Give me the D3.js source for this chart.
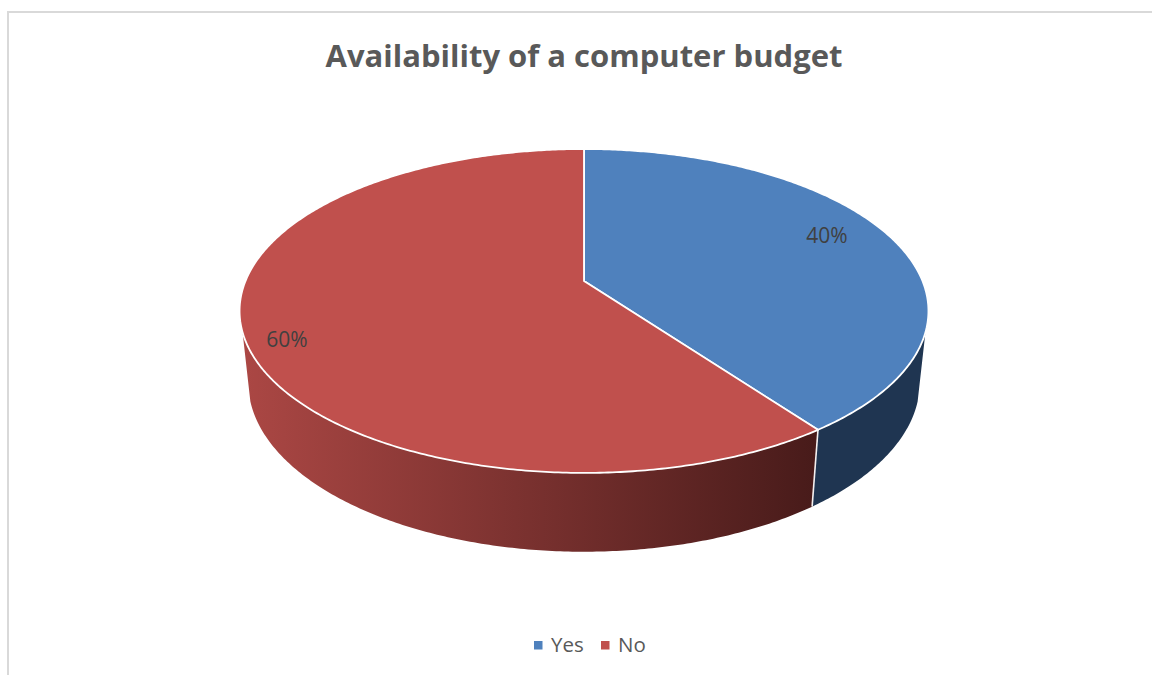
<!DOCTYPE html>
<html><head><meta charset="utf-8">
<script src="https://cdn.jsdelivr.net/npm/d3@7"></script>
<style>html,body{margin:0;padding:0;background:#fff;overflow:hidden}svg{display:block}</style>
</head><body><svg id="c" width="1152" height="675"></svg>
<script>
const categories = ["Yes", "No"];
const seriesValues = [40, 60];
const seriesLabels = ["40%", "60%"];
const topColors = ["#4f81bd", "#c0504d"];
const titleText = "Availability of a computer budget";

const svg = d3.select("#c");
const font = "'Open Sans', sans-serif";

// frame
svg.append("path").attr("d", d3.line()([[8, 675], [8, 12], [1152, 12]]))
  .attr("fill", "none").attr("stroke", "#d9d9d9").attr("stroke-width", 2);

// perspective projection of a tilted disc
const k = -0.185;
const uScale = d3.scaleLinear().domain([-1, 1]);
const topProj = { cx: 584, cy: 281, rx: 338.5, ry: 156.4 };
const lowProj = { cx: 584, cy: 351, rx: 330, ry: 163.6 };
function project(p, t) {
  const u = Math.sin(t), v = -Math.cos(t), d = 1 + k * v;
  const x = uScale.copy().range([p.cx - p.rx, p.cx + p.rx]);
  const y = uScale.copy().range([p.cy - p.ry, p.cy + p.ry]);
  return [x(u / d), y(v / d)];
}
const arcPts = (p, a, b) => {
  const n = Math.max(2, Math.ceil(Math.abs(b - a) / 0.01));
  return d3.range(n + 1).map(i => project(p, a + (b - a) * i / n));
};
const line = d3.line();

const arcs = d3.pie().sort(null)(seriesValues);
const rad = d => d * Math.PI / 180;

// silhouette angles, where the side wall leaves the top rim
const topR = rad(108), lowR = rad(107);
const topL = rad(252), lowL = rad(253);

const defs = svg.append("defs");
const grad = defs.append("linearGradient").attr("id", "redSide")
  .attr("gradientUnits", "userSpaceOnUse").attr("x1", 243).attr("x2", 815).attr("y1", 0).attr("y2", 0);
grad.append("stop").attr("offset", 0).attr("stop-color", "#ab4744");
grad.append("stop").attr("offset", 1).attr("stop-color", "#481b1a");

const split = arcs[0].endAngle;

// side walls
const blueSide = arcPts(topProj, topR, split).concat(arcPts(lowProj, split, lowR));
svg.append("path").attr("d", line(blueSide) + "Z").attr("fill", "#1f3551");
const redSide = arcPts(topProj, split, topL).concat(arcPts(lowProj, lowL, split));
svg.append("path").attr("d", line(redSide) + "Z").attr("fill", "url(#redSide)");
svg.append("path").attr("d", line([project(topProj, split), project(lowProj, split)]))
  .attr("stroke", "#f4f0f0").attr("stroke-width", 1.6).attr("fill", "none");

// top faces
svg.selectAll("path.slice").data(arcs).join("path").attr("class", "slice")
  .attr("d", d => line([[topProj.cx, topProj.cy]].concat(arcPts(topProj, d.startAngle, d.endAngle))) + "Z")
  .attr("fill", (d, i) => topColors[i])
  .attr("stroke", "#fff").attr("stroke-width", 1.8).attr("stroke-linejoin", "round");

// data labels
const labelX = [827, 287], labelY = [243, 347];
svg.selectAll("text.lab").data(seriesLabels).join("text").attr("class", "lab")
  .attr("x", (d, i) => labelX[i]).attr("y", (d, i) => labelY[i])
  .attr("text-anchor", "middle").attr("font-family", font).attr("font-size", 21)
  .attr("fill", "#404040").text(d => d);

// title
svg.append("text").attr("x", 584).attr("y", 67).attr("text-anchor", "middle")
  .attr("font-family", font).attr("font-weight", 700).attr("font-size", 31)
  .attr("fill", "#595959").text(titleText);

// legend
const legendSwatchX = [534, 601], legendTextX = [551, 618];
const legend = svg.selectAll("g.leg").data(categories).join("g").attr("class", "leg");
legend.append("rect").attr("x", (d, i) => legendSwatchX[i]).attr("y", 641).attr("width", 8.5).attr("height", 8.5)
  .attr("fill", (d, i) => topColors[i]);
legend.append("text").attr("x", (d, i) => legendTextX[i]).attr("y", 652)
  .attr("font-family", font).attr("font-size", 20.5).attr("fill", "#595959").text(d => d);
</script></body></html>
